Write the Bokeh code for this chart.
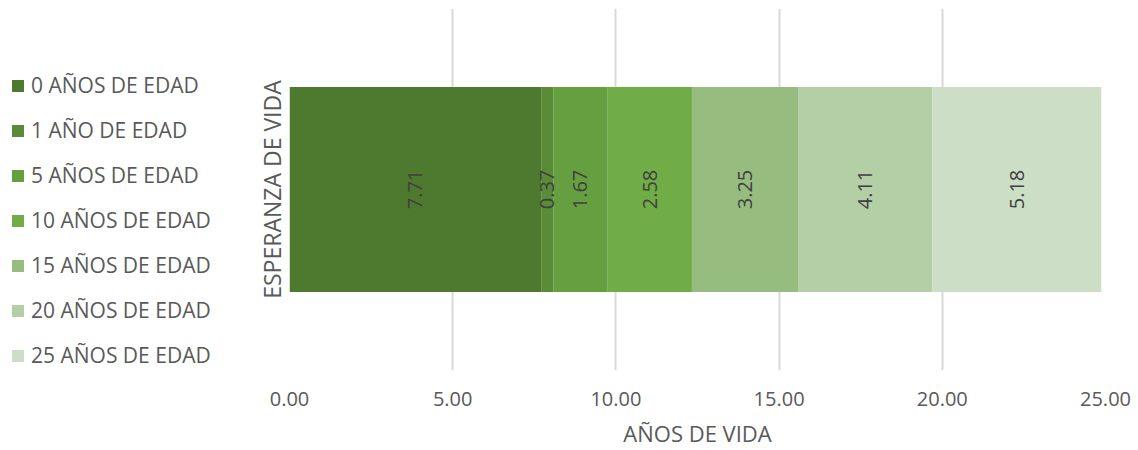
import math
import numpy as np
from bokeh.plotting import figure
from bokeh.layouts import row
from bokeh.models import (ColumnDataSource, Legend, NumeralTickFormatter,
                          SingleIntervalTicker, Range1d, FactorRange, Title)
from bokeh.core.properties import value
from bokeh.embed import file_html
from bokeh.resources import INLINE

# ---- data ----
category = ["ESPERANZA DE VIDA"]
series_labels = ["0 AÑOS DE EDAD", "1 AÑO DE EDAD", "5 AÑOS DE EDAD",
                 "10 AÑOS DE EDAD", "15 AÑOS DE EDAD", "20 AÑOS DE EDAD",
                 "25 AÑOS DE EDAD"]
series_values = [7.71, 0.37, 1.67, 2.58, 3.25, 4.11, 5.18]
colors = ["#4E7A2F", "#5A8C37", "#659F40", "#70AD47", "#96BD7F", "#B4CFA6", "#CCDEC6"]
x_title = "AÑOS DE VIDA"

FONT = "Open Sans"
TXT = "#595959"

keys = [f"s{i}" for i in range(len(series_values))]
data = {"cat": category}
for k, v in zip(keys, series_values):
    data[k] = [v]
source = ColumnDataSource(data)

# ---------- main chart ----------
p = figure(width=889, height=450, y_range=FactorRange(*category, range_padding=0),
           x_range=Range1d(0, 25), output_backend="svg", toolbar_location=None,
           y_axis_location=None,
           min_border_left=40, min_border_right=33, min_border_top=8,
           min_border_bottom=80)
p.outline_line_color = None
p.background_fill_color = "white"
p.border_fill_color = "white"

renderers = p.hbar_stack(keys, y="cat", height=0.566, color=colors, line_color=None,
                         source=source)

# data labels
vals = np.array(series_values)
ends = np.cumsum(vals)
mids = ends - vals / 2
lab_src = ColumnDataSource(dict(x=list(mids), y=category * len(vals),
                                t=[f"{v:.2f}" for v in series_values]))
p.text(x="x", y="y", text="t", source=lab_src, angle=math.pi / 2,
       text_align="center", text_baseline="middle", text_font=value(FONT),
       text_font_size="20px", text_color="#404040")

# x axis
xa = p.xaxis[0]
xa.ticker = SingleIntervalTicker(interval=5, num_minor_ticks=0)
xa.formatter = NumeralTickFormatter(format="0.00")
xa.axis_line_color = None
xa.major_tick_line_color = None
xa.minor_tick_line_color = None
xa.major_tick_out = 0
xa.major_label_text_font = FONT
xa.major_label_text_font_size = "20px"
xa.major_label_text_color = TXT
xa.major_label_standoff = 21
xa.axis_label = x_title
xa.axis_label_text_font = FONT
xa.axis_label_text_font_size = "22px"
xa.axis_label_text_font_style = "normal"
xa.axis_label_text_color = TXT
xa.axis_label_standoff = 9

p.xgrid.grid_line_color = "#D9D9D9"
p.xgrid.grid_line_width = 2
p.ygrid.grid_line_color = None

# category name shown as rotated title at the left of the bar
ytitle = Title(text=category[0], align="center", text_font=FONT,
               text_font_size="23px", text_font_style="normal",
               text_color=TXT, standoff=4, offset=0)
p.add_layout(ytitle, "left")

# ---------- legend panel (same stacked series, kept outside its view) ----------
pl = figure(width=249, height=450, output_backend="svg", toolbar_location=None,
            y_range=FactorRange(*category), x_range=Range1d(-20, -10),
            x_axis_location=None, y_axis_location=None, min_border=0)
pl.outline_line_color = None
pl.grid.grid_line_color = None
pl.border_fill_color = "white"
pl.background_fill_color = "white"
swatches = pl.hbar_stack(keys, y="cat", height=0.566, color=colors, line_color=None,
                         source=source)

legend = Legend(items=[(lab, [r]) for lab, r in zip(series_labels, swatches)],
                location=(10, 1), orientation="vertical",
                padding=0, margin=0, spacing=17,
                glyph_width=15, glyph_height=15, label_height=20,
                label_standoff=6, label_text_font=FONT,
                label_text_font_size="21px", label_text_color=TXT,
                border_line_color=None, background_fill_alpha=0)
pl.add_layout(legend, "center")

layout = row(pl, p, spacing=0)
open("out.html", "w").write(file_html(layout, INLINE))
